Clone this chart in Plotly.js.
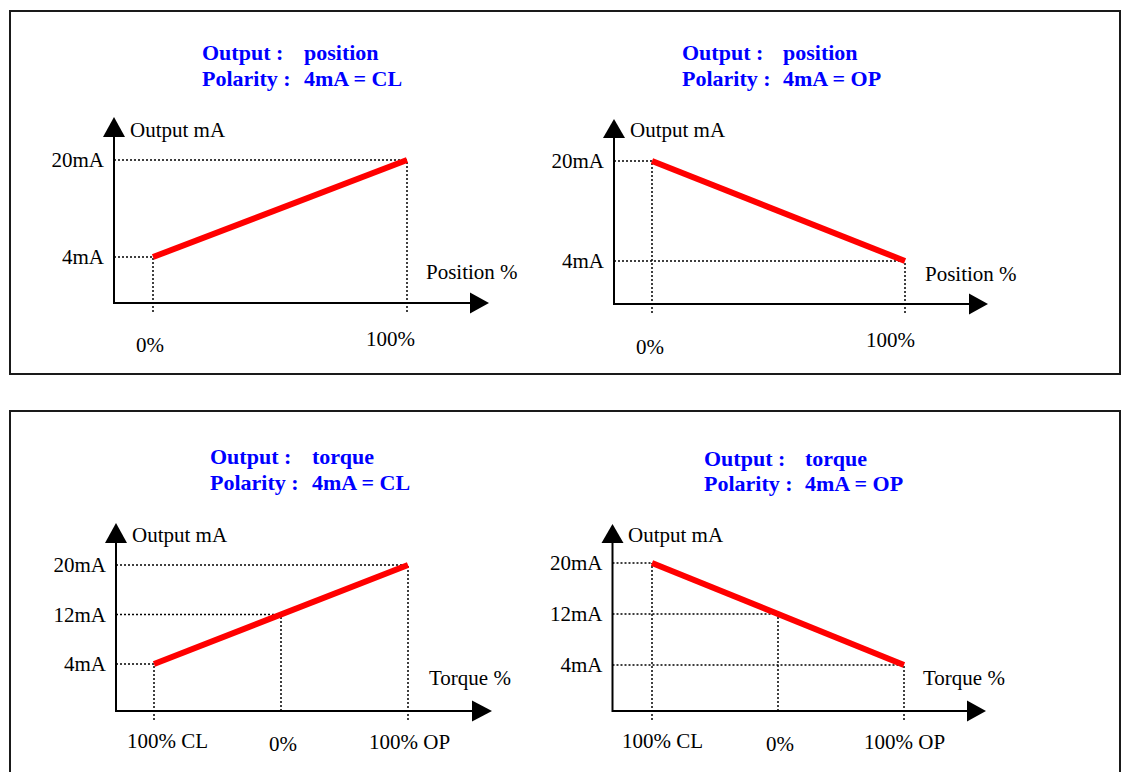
<!DOCTYPE html>
<html><head><meta charset="utf-8">
<script src="https://cdn.plot.ly/plotly-3.0.1.min.js"></script>
<style>html,body{margin:0;padding:0;background:#fff}#chart{width:1122px;height:772px}</style>
</head><body><div id="chart"></div>
<script>
// ---------- data ----------
const positionPct = [0, 100];
const positionLabels = ['0%', '100%'];
const posOutputCL = [4, 20];
const posOutputOP = [20, 4];
const positionTickVals = [4, 20];
const positionTickText = ['4mA', '20mA'];

const torquePct = [-100, 0, 100];
const torqueLabels = ['100% CL', '0%', '100% OP'];
const torqOutputCL = [4, 12, 20];
const torqOutputOP = [20, 12, 4];
const torqueTickVals = [4, 12, 20];
const torqueTickText = ['4mA', '12mA', '20mA'];

const panelOutputs = ['position', 'position', 'torque', 'torque'];
const panelPolarity = ['4mA = CL', '4mA = OP', '4mA = CL', '4mA = OP'];
const xAxisNames = ['Position %', 'Position %', 'Torque %', 'Torque %'];
const yAxisName = 'Output mA';

// ---------- layout geometry (pixels) ----------
const W = 1122, H = 772;
const fx = px => px / W, fy = py => 1 - py / H;
const FONT = 'Liberation Serif, Times New Roman, serif';

const panels = [
  {x: positionPct, y: posOutputCL, xl: positionLabels, yv: positionTickVals, yt: positionTickText},
  {x: positionPct, y: posOutputOP, xl: positionLabels, yv: positionTickVals, yt: positionTickText},
  {x: torquePct, y: torqOutputCL, xl: torqueLabels, yv: torqueTickVals, yt: torqueTickText},
  {x: torquePct, y: torqOutputOP, xl: torqueLabels, yv: torqueTickVals, yt: torqueTickText}
];
const geom = [
  {xPix:[153,407], yPix:[257,160], ax:114, ay:303, upTip:117, upBase:137, rTip:489, rBase:470,
   title:[200,302,52,78], yName:[128,130], xName:[424,272], lab:[[-3,345],[-17,339]]},
  {xPix:[652,905], yPix:[261,161], ax:614, ay:304, upTip:119, upBase:138, rTip:988, rBase:969,
   title:[680,781,52,78], yName:[628,130], xName:[923,274], lab:[[-2,347],[-15,340]]},
  {xPix:[154,408], yPix:[664,565], ax:116, ay:711, upTip:523, upBase:543, rTip:492, rBase:472,
   title:[208,310,456,482], yName:[130,535], xName:[427,678], lab:[[13,741],[2,744],[1,742]]},
  {xPix:[652,904], yPix:[665,563], ax:612.5, ay:711, upTip:524, upBase:543, rTip:986, rBase:967,
   title:[702,803,458,483], yName:[626,535], xName:[921,678], lab:[[10,741],[2,744],[0,742]]}
];

const data = [], shapes = [], annotations = [];
const layout = {
  width: W, height: H, autosize: false,
  margin: {l:0, r:0, t:0, b:0, pad:0},
  paper_bgcolor: '#fff', plot_bgcolor: 'rgba(0,0,0,0)',
  showlegend: false, hovermode: false
};

// outer boxes
shapes.push({type:'rect', xref:'paper', yref:'paper', x0:fx(10), x1:fx(1120), y0:fy(374), y1:fy(11),
  line:{color:'#1a1a1a', width:2}, fillcolor:'rgba(0,0,0,0)'});
shapes.push({type:'rect', xref:'paper', yref:'paper', x0:fx(10), x1:fx(1120), y0:fy(800), y1:fy(411),
  line:{color:'#1a1a1a', width:2}, fillcolor:'rgba(0,0,0,0)'});

panels.forEach((p, i) => {
  const g = geom[i];
  const n = i === 0 ? '' : String(i + 1);
  const xa = 'x' + n, ya = 'y' + n;
  const xFirst = p.x[0], xLast = p.x[p.x.length - 1];
  const bx = (g.xPix[1] - g.xPix[0]) / (xLast - xFirst), axx = g.xPix[0] - bx * xFirst;
  const yLo = Math.min(...p.y), yHi = Math.max(...p.y);
  const dy = (g.yPix[1] - g.yPix[0]) / (yHi - yLo), cy = g.yPix[0] - dy * yLo;
  const px2x = px => (px - axx) / bx, py2y = py => (py - cy) / dy;
  const L = g.ax - 4, R = g.rTip + 3, T = g.upTip - 3, B = g.ay + 14;

  layout['xaxis' + n] = {domain:[fx(L), fx(R)], range:[px2x(L), px2x(R)], anchor:ya,
    showgrid:false, zeroline:false, showline:false, showticklabels:false, ticks:'', fixedrange:true};
  layout['yaxis' + n] = {domain:[fy(B), fy(T)], range:[py2y(B), py2y(T)], anchor:xa,
    showgrid:false, zeroline:false, showline:false, ticks:'', tickmode:'array',
    tickvals:p.yv, ticktext:p.yt, tickfont:{family:FONT, size:21, color:'#000'},
    ticklabelstandoff:5, fixedrange:true};

  const axX = px2x(g.ax), axY = py2y(g.ay), below = py2y(g.ay + 9);
  // dotted guide lines
  const gx = [], gy = [];
  p.x.forEach((xv, k) => {
    const yv = p.y[k];
    gx.push(axX, xv, null); gy.push(yv, yv, null);
    const interior = k > 0 && k < p.x.length - 1;
    gx.push(xv, xv, null); gy.push(interior ? axY : below, yv, null);
  });
  data.push({type:'scatter', mode:'lines', x:gx, y:gy, xaxis:xa, yaxis:ya,
    line:{color:'#000', width:1.5, dash:'2px,2px'}, hoverinfo:'skip'});
  // output line
  data.push({type:'scatter', mode:'lines', x:p.x, y:p.y, xaxis:xa, yaxis:ya,
    line:{color:'#ff0000', width:6}, hoverinfo:'skip'});
  // axes lines
  data.push({type:'scatter', mode:'lines', x:[axX, axX, px2x(g.rBase)], y:[py2y(g.upBase), axY, axY],
    xaxis:xa, yaxis:ya, line:{color:'#000', width:2}, hoverinfo:'skip'});

  // arrow heads
  shapes.push({type:'path', xref:'paper', yref:'paper', xsizemode:'pixel', ysizemode:'pixel',
    xanchor:fx(g.ax), yanchor:fy(g.upBase),
    path:`M-11,0 L11,0 L0,${g.upBase - g.upTip} Z`, fillcolor:'#000', line:{width:0}});
  shapes.push({type:'path', xref:'paper', yref:'paper', xsizemode:'pixel', ysizemode:'pixel',
    xanchor:fx(g.rBase), yanchor:fy(g.ay),
    path:`M0,-10.5 L0,10.5 L${g.rTip - g.rBase},0 Z`, fillcolor:'#000', line:{width:0}});

  // x labels
  p.xl.forEach((t, k) => {
    annotations.push({text:t, xref:xa, yref:'paper', x:p.x[k], xshift:g.lab[k][0], y:fy(g.lab[k][1]),
      xanchor:'center', yanchor:'middle', showarrow:false, font:{family:FONT, size:21, color:'#000'}});
  });
  // axis names
  annotations.push({text:yAxisName, xref:'paper', yref:'paper', x:fx(g.yName[0]), y:fy(g.yName[1]),
    xanchor:'left', yanchor:'middle', showarrow:false, font:{family:FONT, size:21, color:'#000'}});
  annotations.push({text:xAxisNames[i], xref:'paper', yref:'paper', x:fx(g.xName[0]), y:fy(g.xName[1]),
    xanchor:'left', yanchor:'middle', showarrow:false, font:{family:FONT, size:21, color:'#000'}});
  // titles
  const tf = {family:FONT, size:22, color:'#0000ff'};
  [['Output :', panelOutputs[i], g.title[2]], ['Polarity :', panelPolarity[i], g.title[3]]].forEach(r => {
    annotations.push({text:'<b>' + r[0] + '</b>', xref:'paper', yref:'paper', x:fx(g.title[0]), y:fy(r[2]),
      xanchor:'left', yanchor:'middle', showarrow:false, font:tf});
    annotations.push({text:'<b>' + r[1] + '</b>', xref:'paper', yref:'paper', x:fx(g.title[1]), y:fy(r[2]),
      xanchor:'left', yanchor:'middle', showarrow:false, font:tf});
  });
});

layout.shapes = shapes;
layout.annotations = annotations;
Plotly.newPlot('chart', data, layout, {staticPlot:true, displayModeBar:false});
</script>
</body></html>
